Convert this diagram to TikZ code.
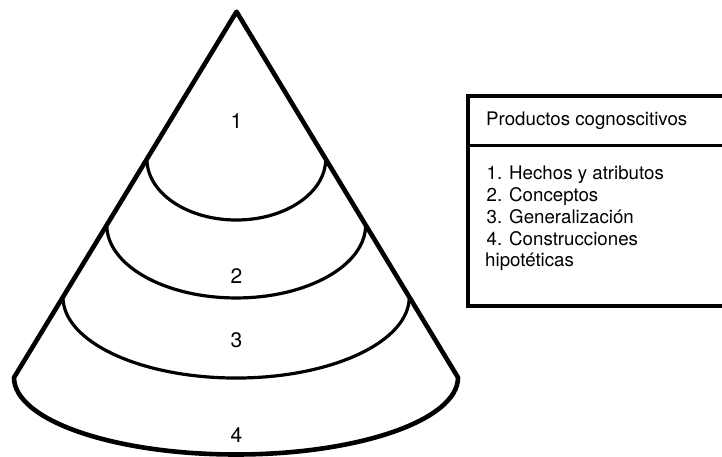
\documentclass[tikz,border=0pt]{standalone}
\usepackage{fontspec}
\setmainfont{TeX Gyre Heros}
\usetikzlibrary{calc}
\begin{document}
\begin{tikzpicture}[x=1pt,y=-1pt,
  outline/.style={line width=4.6pt, line join=round},
  band/.style={line width=3.2pt},
  frame/.style={line width=3.2pt},
  lvl/.style={font=\fontsize{21}{21}\selectfont, inner sep=0pt},
  itemtext/.style={font=\fontsize{18.7}{22}\selectfont, anchor=base west, inner sep=0pt}]
\useasboundingbox (0,0) rectangle (722,457);
% cone: apex and the two ends of the base
\coordinate (A) at (236.5,11.7);
\coordinate (BL) at (14,377.5);
\coordinate (BR) at (458,377.5);
\draw[outline] (BL) -- (A) -- (BR)
  arc[start angle=0, end angle=180, x radius=222, y radius=77] -- cycle;
% inner bands, each a half ellipse hanging from the cone sides
\foreach \t/\ry/\n in {0.4027/61/a, 0.583/73/b, 0.78/81/c} {
  \coordinate (L\n) at ($(A)!\t!(BL)$);
  \draw[band] (L\n) arc[start angle=180, end angle=0, x radius=222*\t, y radius=\ry];
}
% level numbers
\node[lvl] (n1) at (236.5,121) {1};
\node[lvl] (n2) at (236.5,276) {2};
\node[lvl] (n3) at (236.5,340) {3};
\node[lvl] (n4) at (236.5,435) {4};
% legend box, open towards the right edge
\coordinate (TL) at (468,96);
\coordinate (TR) at (726,96);
\coordinate (ML) at (468,145.5);
\coordinate (MR) at (726,145.5);
\coordinate (BBL) at (468,306);
\coordinate (BBR) at (726,306);
\draw[frame] (TR) -- (TL) -- (BBL) -- (BBR);
\draw[frame] (ML) -- (MR);
\node[itemtext] (head) at (486,126) {Productos cognoscitivos};
\node[itemtext] (i1) at (486.5,179.5) {1. Hechos y atributos};
\node[itemtext] (i2) at (486.5,201.5) {2. Conceptos};
\node[itemtext] (i3) at (486.5,223.3) {3. Generalización};
\node[itemtext] (i4) at (486.5,245) {4. Construcciones};
\node[itemtext] (i5) at (485,266.7) {hipotéticas};
\end{tikzpicture}
\end{document}
